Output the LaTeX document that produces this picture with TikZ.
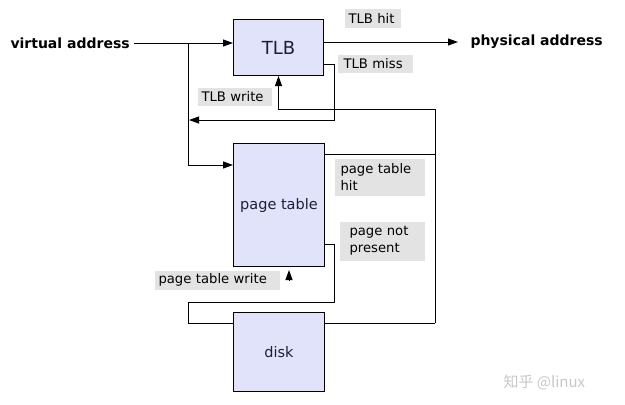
\documentclass[tikz,border=0pt]{standalone}
\usepackage{fontspec}
\setmainfont{DejaVu Sans}
\newfontfamily\cjkfont{Noto Sans CJK SC}
\usetikzlibrary{arrows.meta,calc}
\definecolor{boxfill}{RGB}{225,227,250}
\definecolor{labelfill}{RGB}{227,227,227}
\definecolor{boxtext}{RGB}{30,30,60}
\begin{document}
\begin{tikzpicture}[x=1pt,y=-1pt, line width=1pt,
  unit/.style={draw, fill=boxfill, inner sep=0pt, anchor=north west, text=boxtext, font=\fontsize{14.5}{17}\selectfont},
  lab/.style={fill=labelfill, anchor=north west, inner ysep=0pt, align=left, font=\fontsize{13.2}{17}\selectfont},
  big/.style={font=\bfseries\fontsize{14}{17}\selectfont, inner sep=0pt},
  tip/.style={-{Triangle[length=10pt,width=7pt]}}
]
\useasboundingbox (0,0) rectangle (625,405);
% boxes
\node[unit, minimum width=90pt, minimum height=56pt, font=\fontsize{18}{20}\selectfont] (tlb) at (233,19) {TLB};
\node[unit, minimum width=91pt, minimum height=123pt] (pt) at (233,143) {page table};
\node[unit, minimum width=91pt, minimum height=79pt] (disk) at (233,312) {disk};
% end texts
\node[big, anchor=west] (va) at (10,43) {virtual address};
\node[big, anchor=west] (pa) at (470,42) {physical address};
% labels
\node[lab, minimum height=19pt, inner xsep=4pt, text width=48pt] (lhit) at (344,8) {TLB hit};
\node[lab, minimum height=18pt, inner xsep=6pt, text width=63pt] (lmiss) at (337,54) {TLB miss};
\node[lab, minimum height=18pt, inner xsep=4pt, text width=66pt] (lwrite) at (197,87) {TLB write};
\node[lab, minimum height=37pt, inner xsep=6pt, text width=78pt] (lpth) at (334,158) {page table\\hit};
\node[lab, minimum height=39pt, inner xsep=10pt, text width=65pt] (lnp) at (339,221) {page not\\present};
\node[lab, minimum height=19pt, inner xsep=4pt, text width=117pt] (lptw) at (154,270) {page table write};
% watermark
\node[text=black!22, font=\cjkfont\fontsize{15}{18}\selectfont, anchor=west, inner sep=0pt] (wm) at (503,382) {知乎 @linux};
% coordinates
\coordinate (j1) at (188,43);
\coordinate (j2) at (188,165);
\coordinate (hitend) at (458,42);
\coordinate (miss1) at (334,64);
\coordinate (miss2) at (334,120);
\coordinate (missend) at (189,120);
\coordinate (bus1) at (435,109);
\coordinate (bus2) at (435,154);
\coordinate (bus3) at (435,323);
\coordinate (np1) at (334,244);
\coordinate (np2) at (334,302);
\coordinate (np3) at (188,302);
\coordinate (np4) at (188,323);
\coordinate (ptwbase) at (289,280);
\coordinate (ptwtip) at (289,270);
% connectors
\draw[tip] ([xshift=4pt]va.east) -- (va.east -| tlb.west);
\draw (j1) -- (j2);
\draw[tip] (j2) -- (j2 -| pt.west);
\draw[tip] (tlb.east |- hitend) -- (hitend);
\draw[tip] (tlb.east |- miss1) -- (miss1) -- (miss2) -- (missend);
\draw[tip] (bus1) -- (bus1 -| tlb.south) -- (tlb.south);
\draw (bus1) -- (bus3);
\draw (pt.east |- bus2) -- (bus2);
\draw (disk.east |- bus3) -- (bus3);
\draw (pt.east |- np1) -- (np1) -- (np2) -- (np3) -- (np4) -- (np4 -| disk.west);
\draw[tip] (ptwbase) -- (ptwtip);
\end{tikzpicture}
\end{document}
